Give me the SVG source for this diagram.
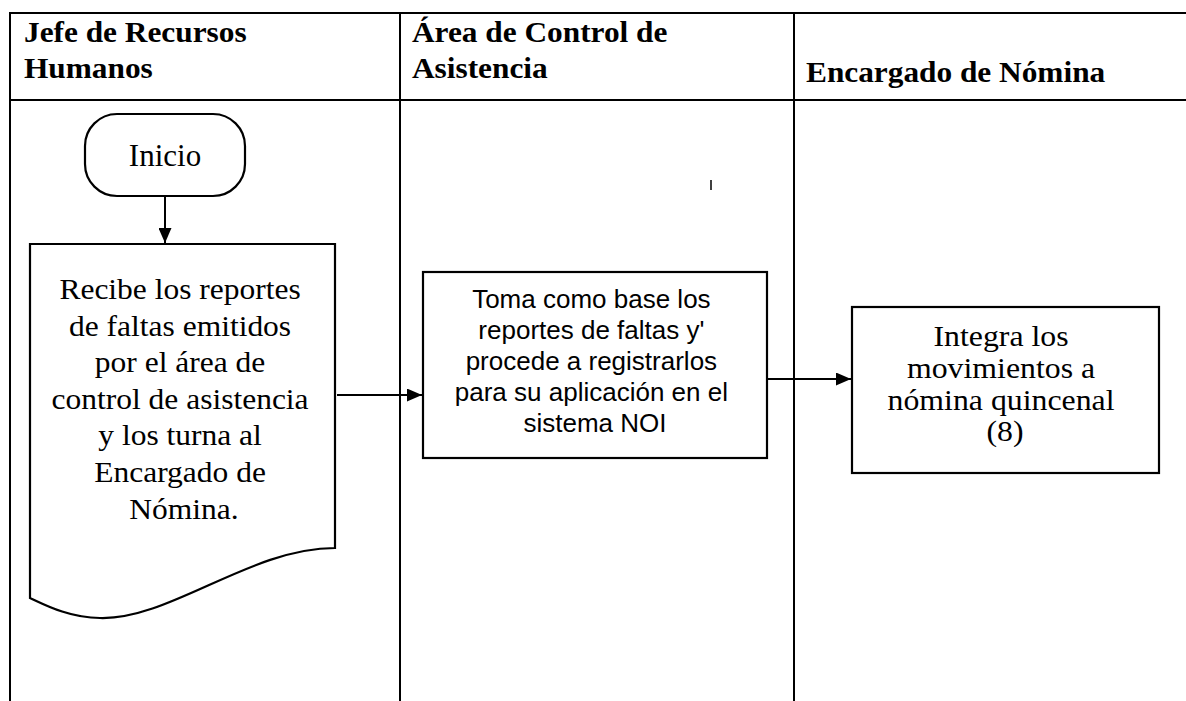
<svg xmlns="http://www.w3.org/2000/svg" width="1186" height="701" viewBox="0 0 1186 701">
<style>
.ln{stroke:#000;stroke-width:2;fill:none}
.shape{stroke:#000;stroke-width:2.2;fill:#fff}
.hd{font-family:"Liberation Serif","Times New Roman",serif;font-weight:bold;font-size:29px;fill:#000}
.tm{font-family:"Liberation Serif","Times New Roman",serif;font-size:30px;fill:#000;text-anchor:middle}
.ar{font-family:"Liberation Sans",Arial,sans-serif;font-size:26px;fill:#000;text-anchor:middle}
</style>
<defs>
<marker id="arr" viewBox="0 0 15 13" refX="15" refY="6.5" markerWidth="15" markerHeight="13" markerUnits="userSpaceOnUse" orient="auto">
<path d="M0,0 L15,6.5 L0,13 Z" fill="#000"/>
</marker>
</defs>
<rect width="1186" height="701" fill="#fff"/>
<g id="table">
<line class="ln" x1="10" y1="13" x2="1186" y2="13"/>
<line class="ln" x1="10" y1="100" x2="1186" y2="100"/>
<line class="ln" x1="10" y1="12" x2="10" y2="701"/>
<line class="ln" x1="400" y1="12" x2="400" y2="701"/>
<line class="ln" x1="794" y1="12" x2="794" y2="701"/>
<line stroke="#000" stroke-width="1.5" x1="711" y1="180" x2="711" y2="190"/>
</g>
<g id="headers">
<text class="hd" transform="translate(24 0) scale(1.08 1)"><tspan x="0" y="42">Jefe de Recursos</tspan><tspan x="0" y="78">Humanos</tspan></text>
<text class="hd" transform="translate(412 0) scale(1.08 1)"><tspan x="0" y="42">Área de Control de</tspan><tspan x="0" y="78">Asistencia</tspan></text>
<text class="hd" transform="translate(806 0) scale(1.08 1)"><tspan x="0" y="82">Encargado de Nómina</tspan></text>
</g>
<g id="inicio">
<rect class="shape" x="85" y="114" width="160" height="82" rx="32" ry="32"/>
<text class="tm" style="font-size:31px" x="165" y="166">Inicio</text>
</g>
<g id="recibe">
<path class="shape" d="M30,244 H335 V548 C250,548 170,620 100,618 C70,618 45,605 30,598 Z"/>
<text class="tm" transform="translate(184 0) scale(1.05 1)">
<tspan x="0" y="299">Recibe los reportes</tspan>
<tspan x="0" y="336">de faltas emitidos</tspan>
<tspan x="0" y="372">por el área de</tspan>
<tspan x="0" y="409">control de asistencia</tspan>
<tspan x="0" y="445">y los turna al</tspan>
<tspan x="0" y="482">Encargado de</tspan>
<tspan x="0" y="519">Nómina.</tspan>
</text>
</g>
<g id="toma">
<rect class="shape" x="423" y="272" width="344" height="186"/>
<text class="ar">
<tspan x="595" y="308">Toma como base los</tspan>
<tspan x="595" y="339">reportes de faltas y'</tspan>
<tspan x="595" y="370">procede a registrarlos</tspan>
<tspan x="595" y="401">para su aplicación en el</tspan>
<tspan x="595" y="432">sistema NOI</tspan>
</text>
</g>
<g id="integra">
<rect class="shape" x="852" y="307" width="307" height="166"/>
<text class="tm" transform="translate(1005 0) scale(1.06 1)">
<tspan x="0" y="346">Integra los</tspan>
<tspan x="0" y="378">movimientos a</tspan>
<tspan x="0" y="410">nómina quincenal</tspan>
<tspan x="0" y="441">(8)</tspan>
</text>
</g>
<g id="connectors">
<line class="ln" x1="165" y1="196" x2="165" y2="243" marker-end="url(#arr)"/>
<line class="ln" x1="337" y1="395" x2="422" y2="395" marker-end="url(#arr)"/>
<line class="ln" x1="767" y1="379" x2="851" y2="379" marker-end="url(#arr)"/>
</g>
</svg>
